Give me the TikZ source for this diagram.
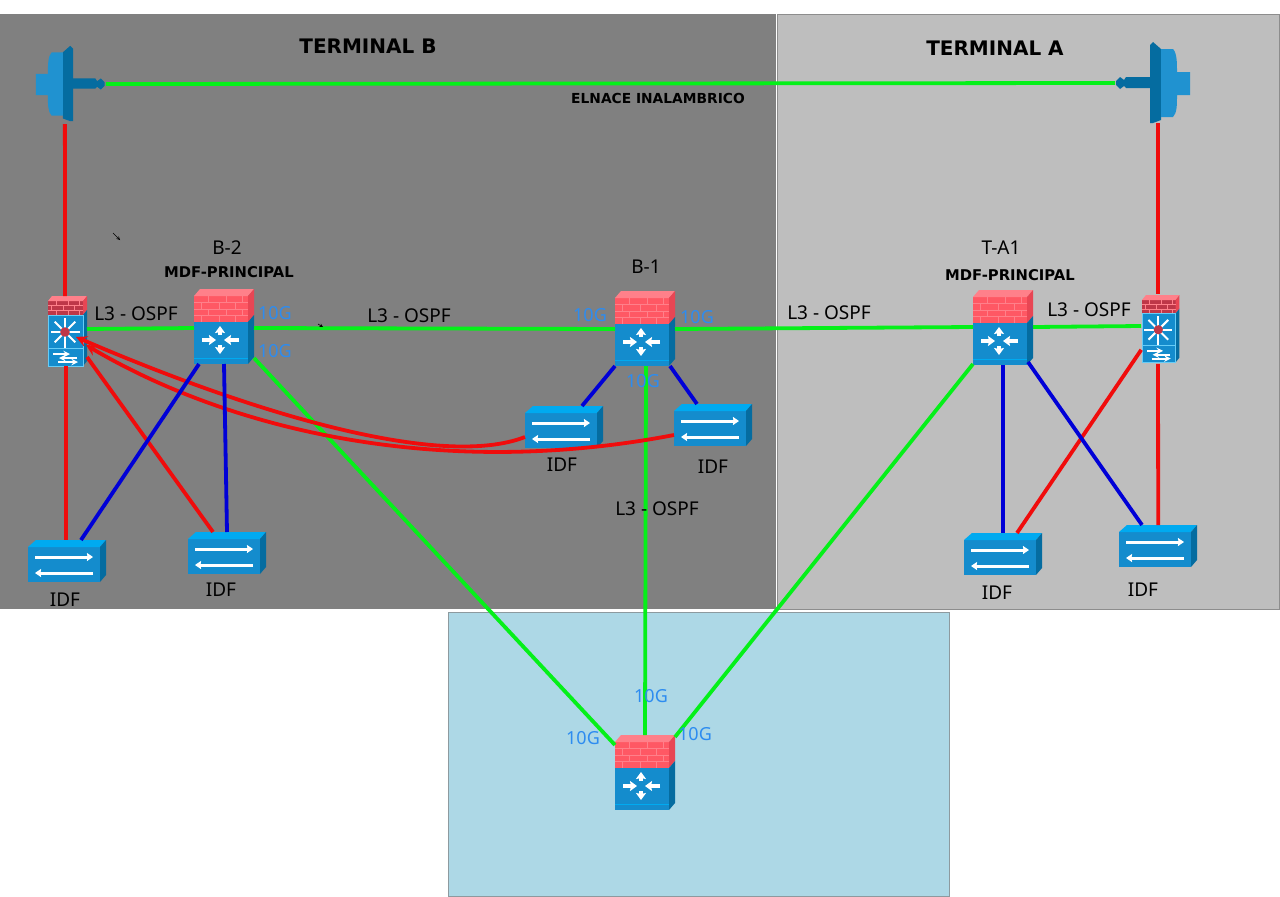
\documentclass[tikz,border=0pt]{standalone}
\usepackage{fontspec}
\setmainfont{Noto Sans}
\newfontfamily\heavyfont{DejaVu Sans}
\usetikzlibrary{positioning,arrows.meta}
\definecolor{zoneb}{RGB}{128,128,128}
\definecolor{zonea}{RGB}{190,190,190}
\definecolor{zonec}{RGB}{173,216,230}
\definecolor{linkgreen}{RGB}{5,240,25}
\definecolor{linkred}{RGB}{240,12,12}
\definecolor{linkblue}{RGB}{0,0,215}
\definecolor{speedblue}{RGB}{45,140,240}
\definecolor{ciscoblue}{RGB}{20,140,205}
\definecolor{ciscoside}{RGB}{5,108,160}
\definecolor{ciscotop}{RGB}{0,170,240}
\definecolor{brick}{RGB}{255,88,100}
\definecolor{bricktop}{RGB}{255,128,138}
\definecolor{brickside}{RGB}{232,70,84}
\definecolor{darkbrick}{RGB}{190,55,72}
\tikzset{
	devbox/.style={inner sep=0pt, outer sep=0pt},
	whitearrow/.style={white, line width=3.2pt, -{Stealth[length=7pt,width=10pt,inset=1pt]}},
	longarrow/.style={white, line width=3pt, -{Stealth[length=6pt,width=8pt,inset=0.5pt]}},
	thinarrow/.style={white, line width=1.9pt, -stealth},
	greenlink/.style={linkgreen, line width=3.8pt},
	redlink/.style={linkred, line width=3.8pt},
	bluelink/.style={linkblue, line width=3.8pt},
	speed/.style={speedblue, font=\fontsize{18}{20}\selectfont},
	plain/.style={font=\fontsize{19}{20}\selectfont},
	mdf/.style={font=\heavyfont\bfseries\fontsize{14.8}{16}\selectfont},
	wirelesslabel/.style={font=\heavyfont\bfseries\fontsize{13.8}{16}\selectfont},
	zonetitle/.style={font=\heavyfont\bfseries\fontsize{20}{22}\selectfont},
	pics/fwrouter/.style={code={
		\node[devbox, minimum width=60pt, minimum height=75pt] (-box) at (30,30.5) {};
		% ladrillos
		\fill[brick] (0,0) rectangle (54,26);
		\fill[bricktop] (0,0) -- ++(6,-7) -- ++(54,0) -- ++(-6,7) -- cycle;
		\fill[brickside] (54,0) -- ++(6,-7) -- ++(0,26) -- ++(-6,7) -- cycle;
		\foreach \y in {6.5,13,19.5} {
			\draw[bricktop, line width=0.5pt] (0,\y) -- ++(54,0);
		}
		\foreach \x in {14,32,48} {
			\draw[bricktop, line width=0.5pt] (\x,0) -- ++(0,6.5) (\x-7,6.5) -- ++(0,6.5) (\x,13) -- ++(0,6.5) (\x-7,19.5) -- ++(0,6.5);
		}
		% cuerpo
		\fill[ciscoblue] (0,26) rectangle (54,68);
		\fill[ciscoside] (54,26) -- ++(6,-7) -- ++(0,42) -- ++(-6,7) -- cycle;
		\draw[ciscotop, line width=0.4pt] (0,62) -- ++(54,0);
		\draw[whitearrow] (8,44) -- ++(14,0);
		\draw[whitearrow] (45,44) -- ++(-15,0);
		\draw[whitearrow] (26,39) -- ++(0,-9);
		\draw[whitearrow] (26,49) -- ++(0,9);
	}},
	pics/idfswitch/.style={code={
		\node[devbox, minimum width=78pt, minimum height=41pt] (-box) at (39,13.5) {};
		\fill[ciscoblue] (0,0) rectangle (72,35);
		\fill[ciscotop] (0,0) -- ++(8,-7) -- ++(70,0) -- ++(-6,7) -- cycle;
		\fill[ciscoside] (72,0) -- ++(6,-7) -- ++(0,35) -- ++(-6,7) -- cycle;
		\draw[longarrow] (7,10) -- ++(58,0);
		\draw[longarrow] (65,26) -- ++(-58,0);
	}},
	pics/multilayer/.style={code={
		\node[devbox, minimum width=39pt, minimum height=70pt] (-box) at (19.5,30) {};
		\fill[darkbrick] (0,0) rectangle (35,14);
		\fill[bricktop] (0,0) -- ++(4,-5) -- ++(35,0) -- ++(-4,5) -- cycle;
		\fill[brickside] (35,0) -- ++(4,-5) -- ++(0,14) -- ++(-4,5) -- cycle;
		\foreach \y in {4.7,9.4} {
			\draw[bricktop, line width=0.5pt] (0,\y) -- ++(35,0);
		}
		\foreach \x in {8,20,31} {
			\draw[bricktop, line width=0.5pt] (\x,0) -- ++(0,4.7) (\x-5,4.7) -- ++(0,4.7) (\x,9.4) -- ++(0,4.6);
		}
		\fill[ciscoblue] (0,14) rectangle (35,65);
		\fill[ciscoside] (35,14) -- ++(4,-5) -- ++(0,51) -- ++(-4,5) -- cycle;
		\draw[ciscotop!60!white, line width=0.5pt] (0,14) rectangle (35,65);
		\draw[ciscotop!60!white, line width=0.5pt] (0,47) -- ++(35,0);
		\foreach \a in {0,45,...,315} {
			\draw[white, line width=2pt] (17,31) -- ++(\a:14.5);
		}
		\draw[white, line width=2pt] (17,31) -- ++(0,16);
		\fill[darkbrick] (17,31) circle (4.8);
		\draw[thinarrow] (5,53) -- ++(17,0);
		\draw[thinarrow] (29,57) -- ++(-18,0);
		\draw[thinarrow] (10,61) -- ++(20,0);
	}},
	pics/antenna/.style={code={
		\node[devbox, circle, minimum size=10pt] (-ball) at (-30,0) {};
		\node[devbox, minimum width=11pt, minimum height=80pt] (-plate) at (5.5,0) {};
		\fill[ciscoside] (0,-6) -- (-24,-6) -- (-26,-3) -- (-30,-6) -- (-34,-2) -- (-34,2) -- (-30,6) -- (-26,3) -- (-24,5) -- (0,5) -- cycle;
		\fill[ciscoside] (0,-38) -- ++(3,-3) -- ++(8,7) -- (11,37) -- ++(-8,3) -- (0,40) -- cycle;
		\fill[ciscoblue!95!white] (11,-34) -- ++(12,0) .. controls (27,-30) and (27,-20) .. (27,-11) -- ++(13,0) -- ++(0,23) -- ++(-13,0) .. controls (27,22) and (27,30) .. (23,34) -- ++(-12,0) -- cycle;
	}}
}
\begin{document}
\begin{tikzpicture}[x=1pt, y=-1pt]
	\useasboundingbox (0,0) rectangle (1280,897);
	% zonas
	\fill[white] (0,0) rectangle (1280,897);
	\fill[zoneb] (0,14) rectangle (776,609);
	\fill[zonea] (777,14) rectangle (1279,609);
	\draw[zoneb!90!white, line width=0.8pt] (777,14) rectangle (1279,609);
	\filldraw[fill=zonec, draw=zoneb!70!zonec, line width=0.8pt] (448,612) rectangle (949,896);
	% equipos
	\pic (antb) at (73,84) [xscale=-1, scale=0.93] {antenna};
	\pic (anta) at (1150,83) {antenna};
	\pic (b2) at (194,296) {fwrouter};
	\pic (b1) at (615,298) {fwrouter};
	\pic (ta1) at (973,297) {fwrouter};
	\pic (core) at (615,742) {fwrouter};
	\pic (mlb) at (48,301) {multilayer};
	\pic (mla) at (1142,300) [scale=0.96] {multilayer};
	\pic (idf1) at (28,547) {idfswitch};
	\pic (idf2) at (188,539) {idfswitch};
	\pic (idf3) at (525,413) {idfswitch};
	\pic (idf4) at (674,411) {idfswitch};
	\pic (idf5) at (964,540) {idfswitch};
	\pic (idf6) at (1119,532) {idfswitch};
	% enlaces verdes
	\draw[greenlink] (antb-ball.east) -- (anta-ball.west);
	\draw[greenlink] ([yshift=2pt]mlb-box.east) -- ([yshift=-1.5pt]b2-box.west);
	\draw[greenlink] ([yshift=-1.5pt]b2-box.east) -- ([yshift=-0.5pt]b1-box.west);
	\draw[greenlink] ([yshift=-0.5pt]b1-box.east) -- ([yshift=0.5pt]ta1-box.west);
	\draw[greenlink] ([yshift=0.5pt]ta1-box.east) -- ([yshift=2.8pt]mla-box.west);
	\draw[greenlink] ([yshift=6pt]b2-box.south east) -- ([yshift=-10pt]core-box.north west);
	\draw[greenlink] ([xshift=1pt]b1-box.south) -- (core-box.north);
	\draw[greenlink] ([yshift=1pt]ta1-box.south west) -- ([yshift=-2pt]core-box.north east);
	% enlaces rojos
	\draw[redlink] ([xshift=-2.5pt]mlb-box.north) -- ([xshift=-3pt]antb-plate.south);
	\draw[redlink] ([xshift=-1.5pt]mlb-box.south) -- ([xshift=-1pt]idf1-box.north);
	\draw[redlink] ([yshift=9pt]mlb-box.south east) -- ([xshift=-14pt]idf2-box.north);
	\draw[redlink] ([xshift=-2.7pt]mla-box.north) -- ([xshift=2.5pt]anta-plate.south);
	\draw[redlink] ([xshift=-2.7pt]mla-box.south) -- ([xshift=0.2pt]idf6-box.north);
	\draw[redlink] ([yshift=14pt]mla-box.south west) -- ([xshift=14pt]idf5-box.north);
	\draw[redlink, stealth-] ([xshift=-11pt,yshift=-6pt]mlb-box.east) .. controls (250,412) and (440,470) .. ([yshift=-10.5pt]idf3-box.west);
	\draw[redlink, stealth-] ([xshift=-1pt,yshift=-14pt]mlb-box.east) .. controls (230,430) and (440,480) .. ([yshift=-10.5pt]idf4-box.west);
	% enlaces azules
	\draw[bluelink] ([xshift=5pt]b2-box.south west) -- ([xshift=14pt]idf1-box.north);
	\draw[bluelink] (b2-box.south) -- (idf2-box.north);
	\draw[bluelink] (b1-box.south west) -- ([xshift=18pt]idf3-box.north);
	\draw[bluelink] ([xshift=-5pt]b1-box.south east) -- ([xshift=-16pt]idf4-box.north);
	\draw[bluelink] (ta1-box.south) -- (idf5-box.north);
	\draw[bluelink] ([xshift=-5pt,yshift=3pt]ta1-box.south east) -- ([xshift=23pt]idf6-box.north west);
	% flechas sueltas
	\coordinate (stray1) at (113,233);
	\coordinate (stray2) at (323,327);
	\draw[-stealth, line width=0.6pt] (stray1) -- ++(7,7);
	\draw[stealth-, line width=0.6pt] (stray2) -- ++(-5,-3);
	% textos
	\node[zonetitle] (titleb) at (368,46) {TERMINAL B};
	\node[zonetitle] (titlea) at (995,48) {TERMINAL A};
	\node[wirelesslabel] (wireless) at (658,98) {ELNACE INALAMBRICO};
	\node[plain] (nameb2) at (227,248) {B-2};
	\node[mdf] (mdfb) at (229,272) {MDF-PRINCIPAL};
	\node[plain] (nameb1) at (646,267) {B-1};
	\node[plain] (nameta) at (1001,248) {T-A1};
	\node[mdf] (mdfa) at (1010,275) {MDF-PRINCIPAL};
	\foreach \x/\y/\name in {136/314/o1, 409/316/o2, 829/313/o3, 1089/310/o4, 657/509/o5} {
		\node[plain] (\name) at (\x,\y) {L3 - OSPF};
	}
	\foreach \x/\y/\name in {275/313/s1, 275/351/s2, 590/315/s3, 697/317/s4, 643/381/s5, 651/696/s6, 583/738/s7, 695/734/s8} {
		\node[speed] (\name) at (\x,\y) {10G};
	}
	\foreach \x/\y/\name in {65/600/i1, 221/590/i2, 562/465/i3, 713/467/i4, 997/593/i5, 1143/590/i6} {
		\node[plain] (\name) at (\x,\y) {IDF};
	}
\end{tikzpicture}
\end{document}
